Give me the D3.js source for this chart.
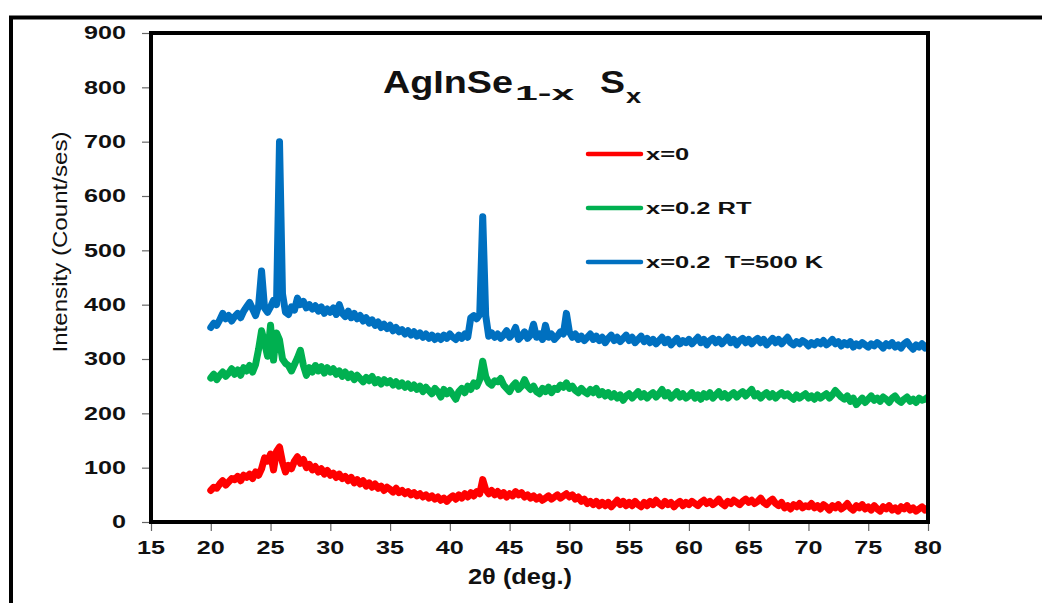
<!DOCTYPE html>
<html>
<head>
<meta charset="utf-8">
<script src="https://cdn.jsdelivr.net/npm/d3@7"></script>
<style>
  html, body { margin: 0; padding: 0; background: #fff; }
  svg { display: block; }
  text { font-family: "Liberation Sans", Arial, Helvetica, sans-serif; }
</style>
</head>
<body>
<svg id="chart" width="1042" height="603"></svg>
<script>
// ---- data ----
const angleStart = 20;     // 2θ of first sample (deg.)
const angleStep = 0.25;    // sampling step (deg.)
const xTicks = [15, 20, 25, 30, 35, 40, 45, 50, 55, 60, 65, 70, 75, 80];
const yTicks = [0, 100, 200, 300, 400, 500, 600, 700, 800, 900];
const seriesNames = ["x=0", "x=0.2 RT", "x=0.2  T=500 K"];
const seriesColors = ["#FF0000", "#00B050", "#0070C0"];

const red = [
  58,64,62,70,76,68,74,80,78,84,76,86,82,88,80,92,86,98,118,112,
  125,96,130,138,110,92,104,98,112,120,108,115,100,106,96,102,92,98,88,95,
  86,90,82,88,80,84,76,82,72,78,70,76,66,72,64,70,62,66,58,64,
  60,55,62,54,58,52,56,50,54,48,52,46,50,44,48,42,46,40,44,38,
  44,48,42,50,44,52,46,54,48,56,52,78,60,52,58,50,56,48,54,46,
  52,48,56,50,54,46,50,44,48,42,46,40,44,48,42,46,50,44,48,52,
  46,50,42,46,38,42,34,38,32,38,30,36,30,36,28,34,40,32,38,30,
  36,30,38,32,28,36,30,38,32,40,34,30,38,32,36,28,34,38,30,36,
  32,38,34,30,36,40,34,38,32,36,42,34,30,38,34,40,36,32,38,42,
  36,40,34,38,44,36,32,38,42,34,30,36,26,30,24,32,28,34,26,30,
  28,34,26,30,24,32,28,22,30,26,32,24,28,34,26,22,30,26,32,24,
  28,22,30,24,20,28,24,30,22,26,20,28,24,30,22,26,20,24,28,22,
  26
];

const green = [
  265,272,262,270,276,268,274,282,272,280,270,284,278,288,276,290,318,352,330,305,
  362,298,348,335,300,292,288,278,290,302,316,288,270,284,276,288,278,286,274,284,
  276,282,272,278,268,276,266,272,262,270,264,258,266,260,268,256,262,254,262,256,
  260,252,258,250,256,248,254,246,252,244,250,240,248,242,236,246,240,230,244,236,
  242,234,226,240,246,238,250,244,256,250,262,296,268,256,252,260,258,264,252,246,
  240,250,256,244,250,262,250,244,250,240,236,246,240,248,238,246,244,252,248,256,
  246,250,242,238,246,240,236,244,238,246,234,240,232,238,230,236,228,234,224,232,
  236,228,234,240,230,236,228,234,238,230,236,244,232,238,228,234,240,230,236,228,
  232,238,228,234,226,236,230,238,228,234,240,230,236,228,234,238,230,236,240,232,
  238,244,232,236,228,234,238,230,236,228,234,238,232,236,230,226,234,228,232,236,
  228,232,226,234,228,232,236,228,234,242,236,230,226,232,222,228,216,222,228,220,
  226,232,224,228,222,230,226,220,228,232,224,220,226,230,222,226,220,228,224,226,
  230
];

const blue = [
  358,366,362,372,384,374,380,370,378,384,376,388,396,404,392,380,398,462,394,386,
  396,408,400,700,420,386,382,396,390,412,400,406,394,400,392,398,388,396,384,392,
  386,394,382,400,384,378,388,376,384,374,380,370,376,366,372,362,368,358,364,356,
  362,352,358,350,354,346,352,344,350,342,348,340,346,338,344,336,342,336,344,338,
  346,340,336,344,338,346,340,376,380,374,382,562,380,342,348,340,346,338,344,352,
  340,346,358,336,342,350,338,344,364,340,346,336,362,340,346,336,342,350,346,384,
  350,340,346,336,342,334,340,346,336,342,334,340,330,338,344,334,340,332,338,344,
  334,340,330,336,342,332,338,330,336,328,334,340,330,336,326,332,338,328,334,330,
  336,328,334,340,330,336,326,334,338,330,336,328,334,340,330,336,326,334,338,330,
  336,328,334,338,330,336,326,332,338,330,336,328,334,340,330,326,332,328,334,330,
  324,330,326,332,328,334,326,330,336,328,332,324,330,326,332,322,328,324,330,326,
  322,328,324,330,326,320,328,324,330,322,326,320,328,332,324,318,326,322,328,320,
  326
];

const allSeries = [red, green, blue];

// ---- layout ----
const svg = d3.select("#chart");
const plot = { left: 151, right: 928, top: 33, bottom: 522 };

svg.append("rect").attr("x", 0).attr("y", 0).attr("width", 1042).attr("height", 603).attr("fill", "#fff");

// outer border (extends beyond the canvas at right and bottom)
svg.append("rect")
  .attr("x", 11).attr("y", 17.5).attr("width", 1060).attr("height", 620)
  .attr("fill", "none").attr("stroke", "#000").attr("stroke-width", 4);

const x = d3.scaleLinear().domain([15, 80]).range([plot.left, plot.right]);
const y = d3.scaleLinear().domain([0, 900]).range([plot.bottom, plot.top]);

// ticks
const yAxis = svg.append("g").attr("transform", `translate(${plot.left},0)`)
  .call(d3.axisLeft(y).tickValues(yTicks).tickSize(9).tickFormat(""));
const xAxis = svg.append("g").attr("transform", `translate(0,${plot.bottom})`)
  .call(d3.axisBottom(x).tickValues(xTicks).tickSize(9).tickFormat(""));
[yAxis, xAxis].forEach(g => {
  g.select(".domain").remove();
  g.selectAll(".tick line").attr("stroke", "#666").attr("stroke-width", 1.2);
});

// tick labels (horizontally stretched bold text, as in the reference)
svg.append("g").selectAll("text").data(yTicks).join("text")
  .attr("transform", d => `translate(126,${y(d)}) scale(1.4,1)`)
  .attr("dy", "0.36em").attr("text-anchor", "end")
  .attr("font-size", 18).attr("font-weight", "bold").attr("fill", "#111")
  .text(d => d);

svg.append("g").selectAll("text").data(xTicks).join("text")
  .attr("transform", d => `translate(${x(d)},554) scale(1.4,1)`)
  .attr("text-anchor", "middle")
  .attr("font-size", 18).attr("font-weight", "bold").attr("fill", "#111")
  .text(d => d);

// series lines
const line = d3.line()
  .x((d, i) => x(angleStart + i * angleStep))
  .y(d => y(d));

svg.append("clipPath").attr("id", "plotclip").append("rect")
  .attr("x", plot.left).attr("y", plot.top)
  .attr("width", plot.right - plot.left).attr("height", plot.bottom - plot.top);

svg.append("g").attr("clip-path", "url(#plotclip)")
  .selectAll("path").data(allSeries).join("path")
  .attr("d", d => line(d))
  .attr("fill", "none")
  .attr("stroke", (d, i) => seriesColors[i])
  .attr("stroke-width", 7)
  .attr("stroke-linejoin", "round")
  .attr("stroke-linecap", "round");

// plot frame
svg.append("rect")
  .attr("x", plot.left).attr("y", plot.top)
  .attr("width", plot.right - plot.left).attr("height", plot.bottom - plot.top)
  .attr("fill", "none").attr("stroke", "#000").attr("stroke-width", 4);

// title
const title = svg.append("g").attr("font-weight", "bold").attr("fill", "#111");
title.append("text").attr("x", 383).attr("y", 93).attr("font-size", 32)
  .attr("textLength", 130).attr("lengthAdjust", "spacingAndGlyphs").text("AgInSe");
title.append("text").attr("transform", "translate(515,100) scale(1.95,1)").attr("font-size", 21)
  .text("1-x");
title.append("text").attr("x", 600).attr("y", 93).attr("font-size", 32)
  .attr("textLength", 25).attr("lengthAdjust", "spacingAndGlyphs").text("S");
title.append("text").attr("transform", "translate(626,103) scale(1.3,1)").attr("font-size", 21)
  .text("x");

// legend
const legendY = [154, 208, 262];
const legend = svg.append("g");
seriesNames.forEach((name, i) => {
  legend.append("line")
    .attr("x1", 588).attr("x2", 641)
    .attr("y1", legendY[i]).attr("y2", legendY[i])
    .attr("stroke", seriesColors[i]).attr("stroke-width", 4.5)
    .attr("stroke-linecap", "round");
  legend.append("text")
    .attr("transform", `translate(646,${legendY[i] + 6}) scale(1.5,1)`)
    .attr("font-size", 17).attr("font-weight", "bold").attr("fill", "#111")
    .attr("xml:space", "preserve")
    .style("white-space", "pre")
    .text(name);
});

// axis titles
svg.append("text")
  .attr("transform", "translate(67,242) rotate(-90)")
  .attr("text-anchor", "middle").attr("font-size", 21).attr("fill", "#111")
  .attr("textLength", 221).attr("lengthAdjust", "spacingAndGlyphs")
  .text("Intensity (Count/ses)");

svg.append("text")
  .attr("x", 520).attr("y", 584)
  .attr("text-anchor", "middle").attr("font-size", 22).attr("font-weight", "600").attr("fill", "#111")
  .attr("textLength", 104).attr("lengthAdjust", "spacingAndGlyphs")
  .text("2θ (deg.)");
</script>
</body>
</html>
